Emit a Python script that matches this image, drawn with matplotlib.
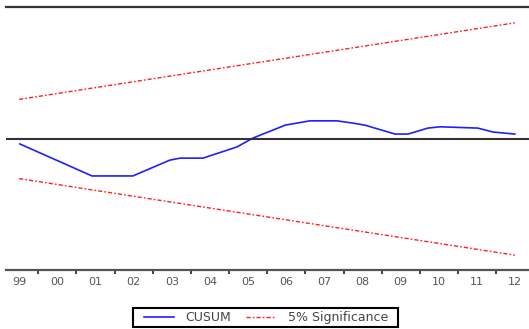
import matplotlib
matplotlib.use("Agg")
import matplotlib.pyplot as plt
from matplotlib.patches import Rectangle
import numpy as np

plt.rcParams['font.family'] = ['DejaVu Sans']

# CUSUM path (year, value)
cusum_t = [1999.52, 2001.41, 2002.48, 2003.45, 2003.72, 2004.32, 2004.58, 2005.21,
           2005.63, 2006.26, 2006.47, 2007.12, 2007.83, 2008.25, 2008.56, 2009.35,
           2009.69, 2010.21, 2010.53, 2011.52, 2011.92, 2012.49]
cusum = [-1.5, -11.2, -11.2, -6.4, -5.8, -5.8, -4.8, -2.4,
         0.3, 3.2, 4.2, 5.5, 5.5, 4.8, 4.2, 1.5,
         1.5, 3.3, 3.7, 3.3, 2.1, 1.5]

# 5% significance bounds
band_t = [1999.5, 2012.49]
upper = [12.0, 35.2]
lower = [-12.0, -35.2]

years = np.arange(1999, 2013)
year_labels = ["99", "00", "01", "02", "03", "04", "05", "06", "07", "08", "09", "10", "11", "12"]

fig = plt.figure(figsize=(5.29, 3.29), dpi=100)
ax = fig.add_axes([6/529, 59/329, 523/529, 263/329])

ax.plot(cusum_t, cusum, color="#2020ff", lw=1.2, label="CUSUM")
ax.plot(band_t, upper, color="#ff2020", lw=1.0, dashes=(3.0, 1.5, 1.2, 1.5),
        label="5% Significance")
ax.plot(band_t, lower, color="#ff2020", lw=1.0, dashes=(3.0, 1.5, 1.2, 1.5))
ax.axhline(0, color="#333333", lw=1.5)

ax.set_xlim(1999.157, 2012.86)
ax.set_ylim(-39.7, 40)

for s in ["left", "right"]:
    ax.spines[s].set_visible(False)
ax.spines["top"].set_color("#333333")
ax.spines["top"].set_linewidth(1.6)
ax.spines["bottom"].set_color("#555555")
ax.spines["bottom"].set_linewidth(1.6)

ax.set_yticks([])
ax.set_xticks(years[1:])
ax.set_xticklabels([])
ax.set_xticks(years + 0.5, minor=True)
ax.set_xticklabels(year_labels, minor=True)
ax.tick_params(axis="x", which="major", direction="out", length=2.8, width=1.3, color="#333333")
ax.tick_params(axis="x", which="minor", length=0, pad=5, labelsize=8, labelcolor="#555555")

# legend without its own frame, boxed separately
leg = fig.legend(loc="center", bbox_to_anchor=(0.503, 1 - 317.5/329), ncol=2,
                 fontsize=9, frameon=False, handlelength=2.4,
                 columnspacing=1.2, handletextpad=0.9, borderpad=0.0,
                 borderaxespad=0.0)
for t in leg.get_texts():
    t.set_color("#444444")
fig.add_artist(Rectangle((133/529, 1 - 327/329), 265/529, 19/329,
                         transform=fig.transFigure, fill=False,
                         edgecolor="black", lw=1.5))

fig.savefig("out.png", dpi=100)
